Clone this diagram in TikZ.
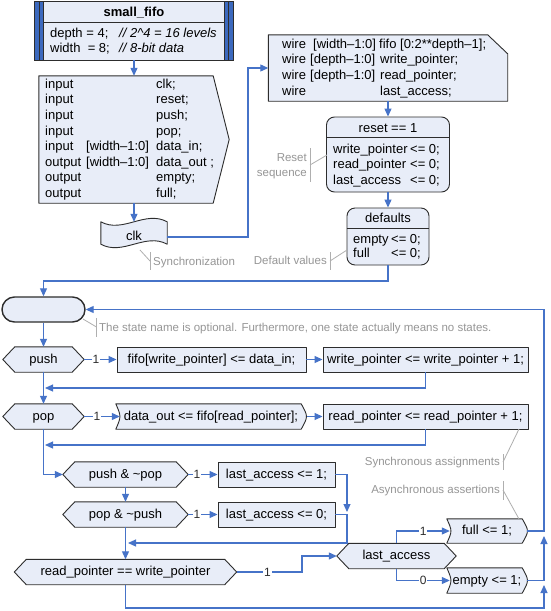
\documentclass[tikz,border=0pt]{standalone}
\usepackage{fontspec}
\setmainfont{Liberation Sans}
\usetikzlibrary{arrows.meta,backgrounds,calc}
\definecolor{boxfill}{RGB}{232,237,248}
\definecolor{boxline}{RGB}{45,45,45}
\definecolor{flow}{RGB}{70,115,200}
\definecolor{stripe}{RGB}{60,105,190}
\definecolor{annot}{RGB}{150,150,150}
\definecolor{annotline}{RGB}{175,175,175}
\begin{document}
\begin{tikzpicture}[x=1pt,y=-1pt,
  txt/.style={font=\fontsize{13}{15.5}\selectfont, inner sep=0, text=black},
  emptyn/.style={inner sep=0, draw=none},
  cnode/.style={txt, minimum height=25pt, text height=9.5pt, text depth=2pt},
  shp/.style={draw=boxline, fill=boxfill, line width=0.9pt, line join=round},
  rbox/.style={cnode, shp},
  flowline/.style={draw=flow, line width=1.1pt},
  arr/.style={flowline, -{Triangle[length=8pt,width=7pt]}},
  lbl/.style={font=\fontsize{12}{14}\selectfont, fill=white, inner sep=1pt, text=boxline},
  ann/.style={font=\fontsize{11.5}{13.5}\selectfont, text=annot, inner sep=0},
  annl/.style={draw=annotline, line width=0.8pt}]
\useasboundingbox (0,0) rectangle (550,611);

% ---- title block
\node[emptyn, minimum width=198pt, minimum height=58pt] (top) at (134,31) {};
\node[txt, font=\fontsize{13}{15.5}\selectfont\bfseries, anchor=base] (title) at (134,16.5) {small\_fifo};
\node[txt, anchor=base west] (par1) at (50,37.5) {\makebox[69pt][l]{depth = 4;}\textit{// 2\textasciicircum 4 = 16 levels}};
\node[txt, anchor=base west] (par2) at (50,52.5) {\makebox[69pt][l]{width\ \ = 8;}\textit{// 8-bit data}};

% ---- ports
\node[emptyn, minimum width=190pt, minimum height=127pt] (ports) at (134,139.5) {};
\node[txt, anchor=base west] (pl1) at (45,88.3) {\makebox[41pt][l]{input}\makebox[70pt][l]{}clk;};
\node[txt, anchor=base west] (pl2) at (45,103.9) {\makebox[41pt][l]{input}\makebox[70pt][l]{}reset;};
\node[txt, anchor=base west] (pl3) at (45,119.4) {\makebox[41pt][l]{input}\makebox[70pt][l]{}push;};
\node[txt, anchor=base west] (pl4) at (45,135.0) {\makebox[41pt][l]{input}\makebox[70pt][l]{}pop;};
\node[txt, anchor=base west] (pl5) at (45,150.6) {\makebox[41pt][l]{input}\makebox[70pt][l]{[width–1:0]}data\_in;};
\node[txt, anchor=base west] (pl6) at (45,166.2) {\makebox[41pt][l]{output}\makebox[70pt][l]{[width–1:0]}data\_out ;};
\node[txt, anchor=base west] (pl7) at (45,181.7) {\makebox[41pt][l]{output}\makebox[70pt][l]{}empty;};
\node[txt, anchor=base west] (pl8) at (45,197.3) {\makebox[41pt][l]{output}\makebox[70pt][l]{}full;};

% ---- clk
\node[cnode, minimum width=66pt, minimum height=30pt] (clk) at (134,237) {clk};

% ---- wires
\node[emptyn, minimum width=239pt, minimum height=66pt] (wires) at (388,68) {};
\node[txt, anchor=base west] (wl1) at (282,48.3) {\makebox[31pt][l]{wire}\makebox[66pt][l]{[width–1:0]}fifo [0:2**depth–1];};
\node[txt, anchor=base west] (wl2) at (282,63.9) {\makebox[28pt][l]{wire}\makebox[70pt][l]{[depth–1:0]}write\_pointer;};
\node[txt, anchor=base west] (wl3) at (282,79.4) {\makebox[28pt][l]{wire}\makebox[70pt][l]{[depth–1:0]}read\_pointer;};
\node[txt, anchor=base west] (wl4) at (282,95.0) {\makebox[98pt][l]{wire}last\_access;};

% ---- reset
\node[shp, rounded corners=8pt, minimum width=123pt, minimum height=75pt, inner sep=0] (reset) at (388,154.5) {};
\draw[boxline, line width=0.9pt] ([yshift=-21pt]reset.north west) -- ([yshift=-21pt]reset.north east);
\node[txt, anchor=base] (rt) at (388,132.5) {reset == 1};
\node[txt, anchor=base west] (rl1) at (333,153) {\makebox[77pt][l]{write\_pointer}<= 0;};
\node[txt, anchor=base west] (rl2) at (333,168.5) {\makebox[77pt][l]{read\_pointer}<= 0;};
\node[txt, anchor=base west] (rl3) at (333,184) {\makebox[77pt][l]{last\_access}<= 0;};

% ---- defaults
\node[shp, rounded corners=8pt, minimum width=82pt, minimum height=57pt, inner sep=0] (defaults) at (388,236.5) {};
\draw[boxline, line width=0.9pt] ([yshift=-21pt]defaults.north west) -- ([yshift=-21pt]defaults.north east);
\node[txt, anchor=base] (dt) at (388,222.5) {defaults};
\node[txt, anchor=base west] (dl1) at (353,243) {\makebox[38pt][l]{empty}<= 0;};
\node[txt, anchor=base west] (dl2) at (353,257.5) {\makebox[38pt][l]{full}<= 0;};

% ---- state
\node[draw=boxline, fill=boxfill, line width=1.4pt, rounded corners=12.5pt, minimum width=83pt, minimum height=25pt, inner sep=0] (state) at (43.5,309.5) {};

% ---- flow nodes
\node[cnode, minimum width=81pt] (push) at (43.5,359.5) {push};
\node[rbox, minimum width=189pt] (fifo1) at (211.5,359.5) {fifo[write\_pointer] <= data\_in;};
\node[rbox, minimum width=205pt] (wp) at (425.5,359.5) {write\_pointer <= write\_pointer + 1;};
\node[cnode, minimum width=81pt] (pop) at (43.5,416.5) {pop};
\node[cnode, minimum width=190pt] (dout) at (211,416.5) {data\_out <= fifo[read\_pointer];};
\node[rbox, minimum width=205pt] (rp) at (425.5,416.5) {read\_pointer <= read\_pointer + 1;};
\node[cnode, minimum width=125pt] (pnp) at (125.5,474.5) {push \& \textasciitilde pop};
\node[rbox, minimum width=117pt] (la1) at (276.5,474.5) {last\_access <= 1;};
\node[cnode, minimum width=125pt] (ppn) at (125.5,514.5) {pop \& \textasciitilde push};
\node[rbox, minimum width=117pt] (la0) at (276.5,514.5) {last\_access <= 0;};
\node[cnode, minimum width=222pt] (rpw) at (125.5,572) {read\_pointer == write\_pointer};
\node[cnode, minimum width=119pt] (lastacc) at (396.5,556) {last\_access};
\node[cnode, minimum width=80pt, minimum height=24pt] (full) at (487,531) {full <= 1;};
\node[cnode, minimum width=80pt] (empty) at (487,580.5) {empty <= 1;};

% ---- coordinates
\coordinate (c1) at (248,237);
\coordinate (c2) at (388,281);
\coordinate (c3) at (544,531);
\coordinate (m1) at (45,388);
\coordinate (m2) at (45,445);
\coordinate (c4) at (347,474.5);
\coordinate (c5) at (347,512);
\coordinate (c6) at (347,514.5);
\coordinate (m3) at (128,543);
\coordinate (c7) at (302,572);
\coordinate (c8) at (544,580.5);
\coordinate (c9) at (544,536);
\coordinate (c10) at (125.5,608);
\coordinate (c11) at (544,585);

% ---- connectors
\draw[arr] (top.south) -- (ports.north);
\draw[arr] (ports.south) -- (clk.north);
\draw[arr] (clk.east) -- (c1) |- (wires.west);
\draw[arr] (wires.south) -- (reset.north);
\draw[arr] (reset.south) -- (defaults.north);
\draw[arr] (defaults.south) -- (c2) -| (state.north);
\draw[arr] (full.east) -- (c3) |- (state.east);
\draw[arr] (state.south) -- (push.north);
\draw[arr] (push.east) -- node[lbl, pos=0.36]{1} (fifo1.west);
\draw[arr] (fifo1.east) -- (wp.west);
\draw[arr] (wp.south) |- (m1);
\draw[arr] (push.south) -- (pop.north);
\draw[arr] (pop.east) -- node[lbl, pos=0.36]{1} ([xshift=4pt]dout.west);
\draw[arr] ([xshift=1pt]dout.east) -- (rp.west);
\draw[arr] (rp.south) |- (m2);
\draw[arr] (pop.south) |- (pnp.west);
\draw[arr] (pnp.east) -- node[lbl, pos=0.3]{1} (la1.west);
\draw[arr] (pnp.south) -- (ppn.north);
\draw[arr] (ppn.east) -- node[lbl, pos=0.3]{1} (la0.west);
\draw[arr] (la1.east) -- (c4) -- (c5);
\draw[arr] (la0.east) -- (c6) |- (m3);
\draw[arr] (ppn.south) -- (rpw.north);
\draw[arr] (rpw.east) -- node[lbl, pos=0.47]{1} (c7) |- (lastacc.west);
\draw[arr] (lastacc.north) |- node[lbl, pos=0.75]{1} ([xshift=3pt]full.west);
\draw[arr] (lastacc.south) |- node[lbl, pos=0.75]{0} ([xshift=3pt]empty.west);
\draw[arr] (empty.east) -- (c8) -- (c9);
\draw[arr] (rpw.south) -- (c10) -| (c11);

% ---- annotations
\node[ann, anchor=base west] (a1) at (153,265) {Synchronization};
\draw[annl] (150,252) -- (150,270);
\draw[annl] (140,250) -- (150,261);
\node[ann, anchor=base east] (a2) at (327,264) {Default values};
\draw[annl] (330,252) -- (330,270);
\draw[annl] (330,261) -- (347,250);
\node[ann, anchor=base east] (a3a) at (307,161) {Reset};
\node[ann, anchor=base east] (a3b) at (307,176) {sequence};
\draw[annl] (310,148) -- (310,182);
\draw[annl] (310,165) -- (327,155);
\node[ann, anchor=base west] (a4) at (99,331) {The state name is optional. Furthermore, one state actually means no states.};
\draw[annl] (96.5,318) -- (96.5,337);
\draw[annl] (83,319) -- (96.5,327);
\node[ann, anchor=base east] (a5) at (500,465) {Synchronous assignments};
\draw[annl] (503,454) -- (503,470);
\draw[annl] (503,462) -- (519,429);
\node[ann, anchor=base east] (a6) at (500,493) {Asynchronous assertions};
\draw[annl] (503,481) -- (503,500);
\draw[annl] (503,490) -- (519,519);

% ---- shapes behind text
\begin{scope}[on background layer]
\fill[white] (0,0) rectangle (550,611);
\fill[boxfill] (top.north west) rectangle (top.south east);
\fill[stripe] (top.north west) rectangle ([xshift=9pt]top.south west);
\fill[stripe] ([xshift=-9pt]top.north east) rectangle (top.south east);
\draw[boxline, line width=0.9pt] ([xshift=4.5pt]top.north west) -- ([xshift=4.5pt]top.south west);
\draw[boxline, line width=0.9pt] ([xshift=9pt]top.north west) -- ([xshift=9pt]top.south west);
\draw[boxline, line width=0.9pt] ([xshift=-4.5pt]top.north east) -- ([xshift=-4.5pt]top.south east);
\draw[boxline, line width=0.9pt] ([xshift=-9pt]top.north east) -- ([xshift=-9pt]top.south east);
\draw[boxline, line width=0.9pt] ([xshift=9pt,yshift=-20.5pt]top.north west) -- ([xshift=-9pt,yshift=-20.5pt]top.north east);
\draw[boxline, line width=1pt] (top.north west) rectangle (top.south east);
\draw[shp] (ports.north west) -- ([xshift=-16pt]ports.north east) -- (ports.east) -- ([xshift=-16pt]ports.south east) -- (ports.south west) -- cycle;
\draw[shp] (clk.north west) .. controls +(22,12) and +(-22,-12) .. (clk.north east) -- ([yshift=8pt]clk.south east) .. controls +(-22,-12) and +(22,12) .. ([yshift=8pt]clk.south west) -- cycle;
\draw[shp] (wires.north west) -- ([xshift=-20pt]wires.north east) -- ([yshift=-19pt]wires.north east) -- (wires.south east) -- (wires.south west) -- cycle;
\foreach \n in {push,pop,pnp,ppn,rpw,lastacc}
  \draw[shp] (\n.west) -- ([xshift=12pt]\n.north west) -- ([xshift=-12pt]\n.north east) -- (\n.east) -- ([xshift=-12pt]\n.south east) -- ([xshift=12pt]\n.south west) -- cycle;
\foreach \n in {dout,full,empty}
  \draw[shp] (\n.north west) .. controls ([xshift=5.5pt]\n.west) .. (\n.south west) -- ([xshift=-5pt]\n.south east) .. controls ([xshift=2pt]\n.east) .. ([xshift=-5pt]\n.north east) -- cycle;
\end{scope}
\end{tikzpicture}
\end{document}
